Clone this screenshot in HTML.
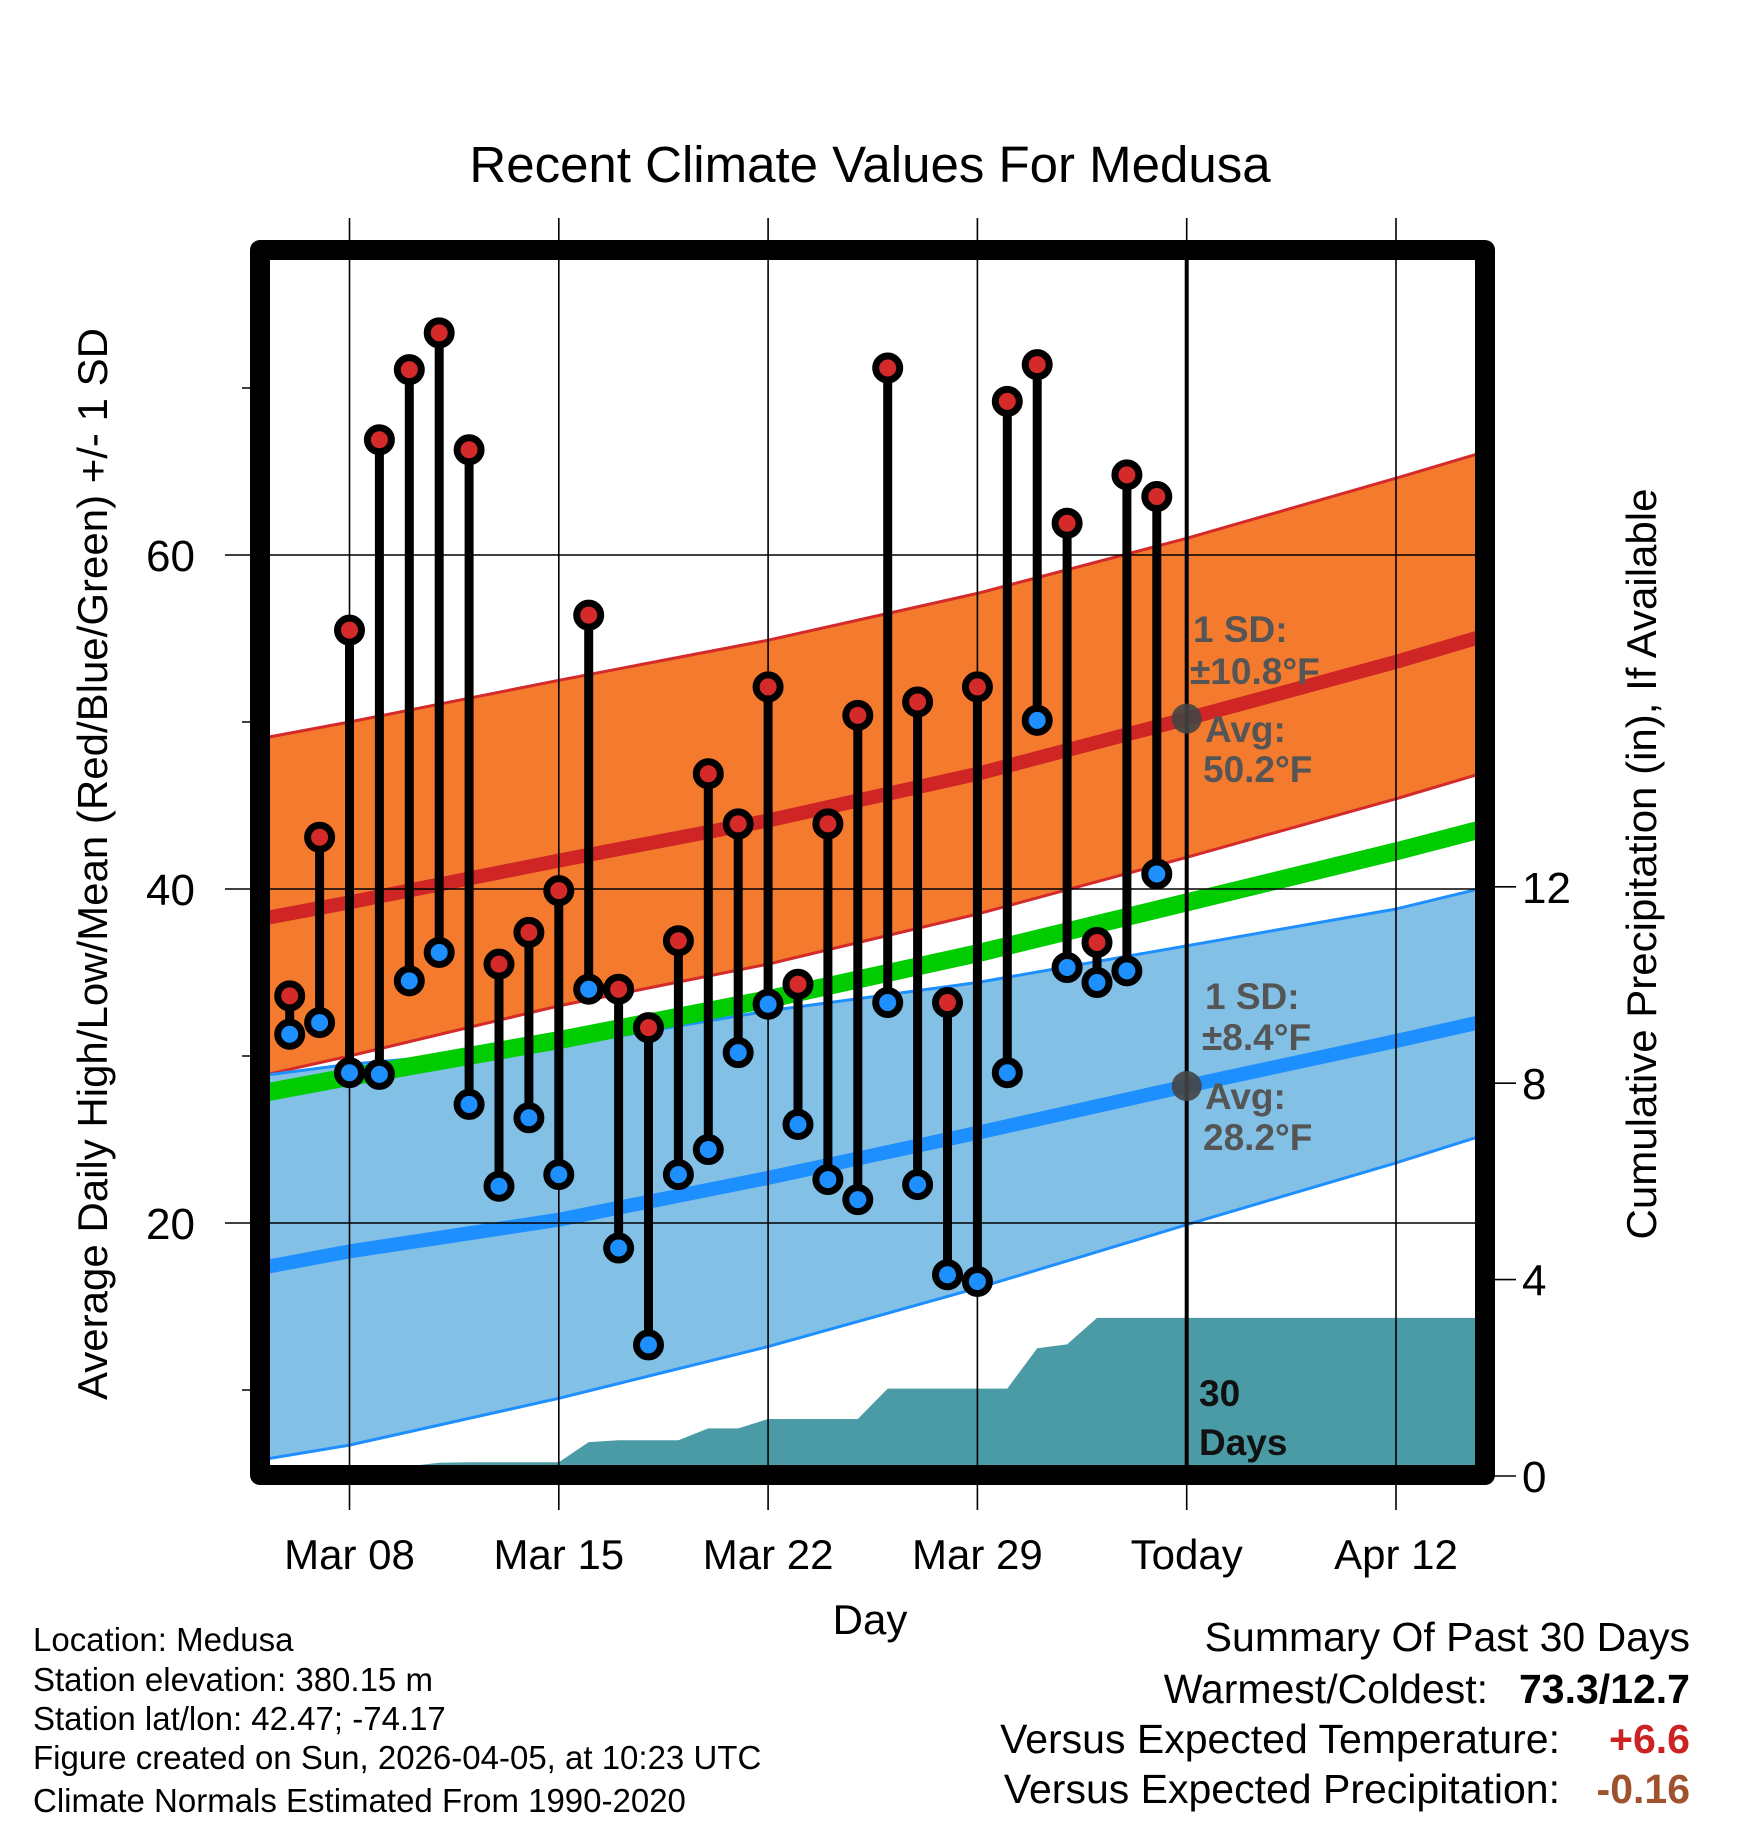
<!DOCTYPE html>
<html><head><meta charset="utf-8"><style>
html,body{margin:0;padding:0;background:#fff;}
svg{display:block;font-family:"Liberation Sans",Arial,sans-serif;}
</style></head><body>
<svg id="chart" width="1748" height="1828" viewBox="0 0 1748 1828" xmlns="http://www.w3.org/2000/svg">
<defs><clipPath id="plotclip"><rect x="270" y="260" width="1205" height="1205"/></clipPath></defs>
<text x="870" y="182" font-size="51" text-anchor="middle">Recent Climate Values For Medusa</text>
<g id="bands" clip-path="url(#plotclip)"></g>
<g id="grid"></g>
<g id="marks" clip-path="url(#plotclip)"></g>
<rect x="260" y="250" width="1225" height="1225" fill="none" stroke="#000" stroke-width="20" stroke-linejoin="round"/>
<g id="labels"></g>
<text transform="translate(107,864) rotate(-90)" font-size="42" text-anchor="middle">Average Daily High/Low/Mean (Red/Blue/Green) +/- 1 SD</text>
<text transform="translate(1656,864) rotate(-90)" font-size="42" text-anchor="middle">Cumulative Precipitation (in), If Available</text>
<text x="870" y="1634" font-size="42" text-anchor="middle">Day</text>
<g font-size="37" font-weight="bold" fill="#555">
<text x="1193" y="642">1 SD:</text><text x="1190" y="684">±10.8°F</text>
<text x="1205" y="742">Avg:</text><text x="1203" y="782">50.2°F</text></g>
<g font-size="37" font-weight="bold" fill="#555">
<text x="1205" y="1009">1 SD:</text><text x="1202" y="1050">±8.4°F</text>
<text x="1205" y="1109">Avg:</text><text x="1203" y="1150">28.2°F</text></g>
<g font-size="37" font-weight="bold" fill="#111">
<text x="1199" y="1406">30</text><text x="1199" y="1455">Days</text></g>
<g font-size="33" fill="#000">
<text x="33" y="1651">Location: Medusa</text>
<text x="33" y="1691">Station elevation: 380.15 m</text>
<text x="33" y="1730">Station lat/lon: 42.47; -74.17</text>
<text x="33" y="1769">Figure created on Sun, 2026-04-05, at 10:23 UTC</text>
<text x="33" y="1812">Climate Normals Estimated From 1990-2020</text></g>
<g font-size="41" fill="#000">
<text x="1690" y="1651" text-anchor="end">Summary Of Past 30 Days</text>
<text x="1488" y="1703" text-anchor="end">Warmest/Coldest:</text>
<text x="1690" y="1703" text-anchor="end" font-weight="bold">73.3/12.7</text>
<text x="1560" y="1753" text-anchor="end">Versus Expected Temperature:</text>
<text x="1690" y="1753" text-anchor="end" font-weight="bold" fill="#cc2222">+6.6</text>
<text x="1560" y="1803" text-anchor="end">Versus Expected Precipitation:</text>
<text x="1690" y="1803" text-anchor="end" font-weight="bold" fill="#a0522d">-0.16</text></g>
</svg>
<script>
// days relative to Mar 08
const obsDays = [-2,-1,0,1,2,3,4,5,6,7,8,9,10,11,12,13,14,15,16,17,18,19,20,21,22,23,24,25,26,27];
const highs = [33.6,43.1,55.5,66.9,71.1,73.3,66.3,35.5,37.4,39.9,56.4,34.0,31.7,36.9,46.9,43.9,52.1,34.3,43.9,50.4,71.2,51.2,33.2,52.1,69.2,71.4,61.9,36.8,64.8,63.5];
const lows = [31.3,32.0,29.0,28.9,34.5,36.2,27.1,22.2,26.3,22.9,34.0,18.5,12.7,22.9,24.4,30.2,33.1,25.9,22.6,21.4,33.2,22.3,16.9,16.5,29.0,50.1,35.3,34.4,35.1,40.9];
const precip = [0.2,0.2,0.2,0.2,0.2,0.27,0.28,0.28,0.28,0.28,0.69,0.73,0.73,0.73,0.97,0.97,1.16,1.16,1.16,1.16,1.78,1.78,1.78,1.78,1.78,2.6,2.68,3.22,3.22,3.22];
const normDays = [-3,0,7,14,21,28,35,38];
const highAvg = [38.2,39.2,41.7,44.1,46.9,50.2,53.6,55.2];
const highUpper = [49.0,50.0,52.5,54.9,57.7,61.0,64.6,66.2];
const highLower = [28.8,30.0,33.0,35.5,38.5,41.9,45.4,47.0];
const lowAvg = [17.3,18.3,20.2,22.7,25.4,28.2,30.9,32.1];
const lowUpper = [28.8,29.5,30.6,32.7,34.4,36.6,38.8,40.1];
const lowLower = [5.8,6.7,9.5,12.6,16.1,19.9,23.6,25.3];
const xTickDays = [0,7,14,21,28,35];
const xTickLabels = ["Mar 08","Mar 15","Mar 22","Mar 29","Today","Apr 12"];
const yTicks = [20,40,60];
const yMinor = [10,30,50,70];
const y2Ticks = [0,4,8,12];
const todayDay = 28;

const X = d => 349.5 + 29.9*d;
const Y = v => 1557 - 16.7*v;
const Y2 = p => 1476 - 49.1*p;
const NS = "http://www.w3.org/2000/svg";
function mk(tag, parent, attrs){const e=document.createElementNS(NS,tag);for(const k in attrs)e.setAttribute(k,attrs[k]);parent.appendChild(e);return e;}
const bands=document.getElementById('bands'), grid=document.getElementById('grid'), marks=document.getElementById('marks'), labels=document.getElementById('labels');
const pts=(arr)=>arr.map(p=>p[0].toFixed(1)+','+p[1].toFixed(1)).join(' ');
const ser=(a)=>normDays.map((d,i)=>[X(d),Y(a[i])]);
const hiU=ser(highUpper), hiL=ser(highLower), loU=ser(lowUpper), loL=ser(lowLower);
let e;
e=mk('polygon',bands,{points:pts(hiU.concat(hiL.slice().reverse())),fill:'#f47a2e'});


e=mk('polygon',bands,{points:pts(loU.concat(loL.slice().reverse())),fill:'#82c0e6'});


[[hiU,'#d42a2a'],[hiL,'#d42a2a'],[loU,'#1e8fff'],[loL,'#1e8fff']].forEach(a=>{
  e=mk('polyline',bands,{points:pts(a[0]),fill:'none',stroke:a[1],'stroke-width':3});
  
  
});
e=mk('polyline',bands,{points:pts(ser(highAvg)),fill:'none',stroke:'#cf2525','stroke-width':14});


e=mk('polyline',bands,{points:pts(ser(lowAvg)),fill:'none',stroke:'#1e8fff','stroke-width':14});


e=mk('polyline',bands,{points:pts(normDays.map((d,i)=>[X(d),Y((highAvg[i]+lowAvg[i])/2)])),fill:'none',stroke:'#00cc00','stroke-width':18});


const pp=[[270,Y2(precip[0])]].concat(obsDays.map((d,i)=>[X(d),Y2(precip[i])]));
pp.push([1480,Y2(precip[precip.length-1])]);pp.push([1480,1480]);pp.push([270,1480]);
e=mk('polygon',bands,{points:pts(pp),fill:'#4a9ba5'});


xTickDays.forEach((d,i)=>{
  e=mk('line',grid,{x1:X(d),x2:X(d),y1:218,y2:1510,stroke:'#000','stroke-width':1.6});
  
  
  e=mk('text',labels,{x:X(d),y:1569,'font-size':42,'text-anchor':'middle'});e.textContent=xTickLabels[i];
  
  
});
yTicks.forEach(v=>{
  e=mk('line',grid,{x1:225,x2:1475,y1:Y(v),y2:Y(v),stroke:'#000','stroke-width':1.6});
  
  
  e=mk('text',labels,{x:195,y:Y(v)+16,'font-size':44,'text-anchor':'end'});e.textContent=v;
  
  
});
yMinor.forEach(v=>{
  e=mk('line',grid,{x1:242,x2:262,y1:Y(v),y2:Y(v),stroke:'#000','stroke-width':1.6});
  
  
});
y2Ticks.forEach(p=>{
  e=mk('line',grid,{x1:1485,x2:1516,y1:Y2(p),y2:Y2(p),stroke:'#000','stroke-width':1.6});
  
  
  e=mk('text',labels,{x:1522,y:Y2(p)+16,'font-size':44});e.textContent=p;
  
  
});
e=mk('line',marks,{x1:X(todayDay),x2:X(todayDay),y1:255,y2:1470,stroke:'#000','stroke-width':4});


[highAvg,lowAvg].forEach((a,k)=>{
  e=mk('circle',marks,{cx:X(todayDay),cy:Y(a[normDays.indexOf(todayDay)]),r:15,fill:'#444','fill-opacity':0.9});
  
  
});
obsDays.forEach((d,i)=>{
  e=mk('line',marks,{x1:X(d),x2:X(d),y1:Y(highs[i]),y2:Y(lows[i]),stroke:'#000','stroke-width':9});
  
  
  e=mk('circle',marks,{cx:X(d),cy:Y(highs[i]),r:12,fill:'#d42a2a',stroke:'#000','stroke-width':7});
  
  
  e=mk('circle',marks,{cx:X(d),cy:Y(lows[i]),r:12,fill:'#1e8fff',stroke:'#000','stroke-width':7});
  
  
});
</script>
</body></html>
